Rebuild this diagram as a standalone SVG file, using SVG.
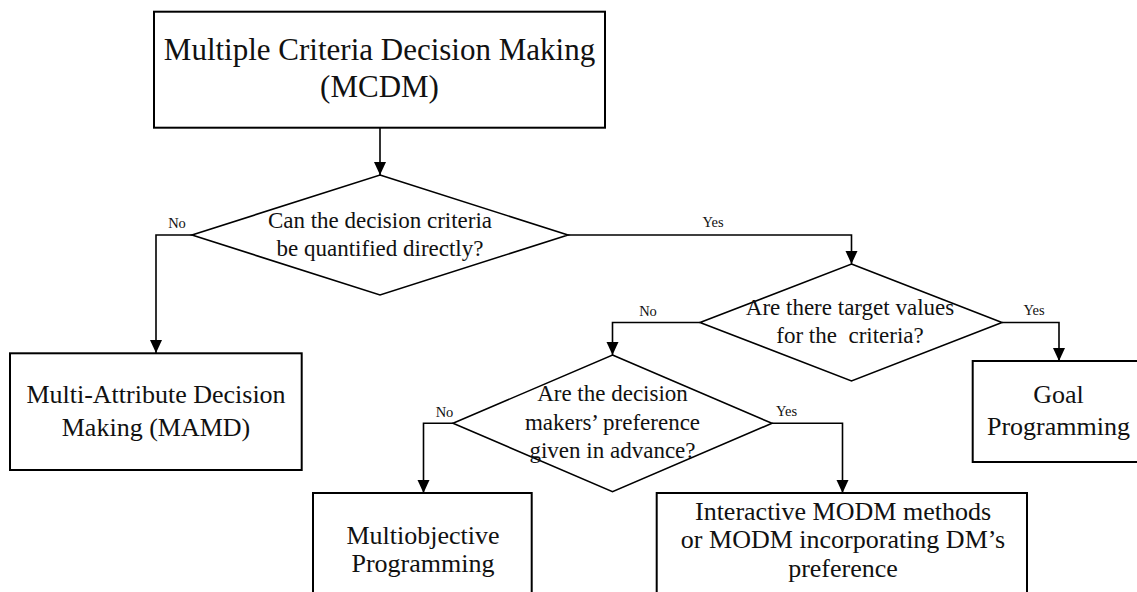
<svg xmlns="http://www.w3.org/2000/svg" width="1137" height="592" viewBox="0 0 1137 592">
<style>
.box{fill:#fff;stroke:#000;stroke-width:2}
.dia{fill:#fff;stroke:#000;stroke-width:1.6}
.con{fill:none;stroke:#000;stroke-width:1.6}
text{font-family:"Liberation Serif","Times New Roman",serif;fill:#111;text-anchor:middle}
.t31{font-size:31px}
.t26{font-size:26px}
.t23{font-size:23px}
.lbl{font-size:14.5px}
</style>
<defs>
<marker id="arr" markerUnits="userSpaceOnUse" markerWidth="14" markerHeight="14" viewBox="0 0 14 12" refX="13" refY="6" orient="auto">
<path d="M0,0 L13,6 L0,12 Z" fill="#000"/>
</marker>
</defs>
<rect width="1137" height="592" fill="#fff"/>
<g id="connectors">
<path class="con" d="M380,128 V175" marker-end="url(#arr)"/>
<path class="con" d="M192,235 H156 V353" marker-end="url(#arr)"/>
<path class="con" d="M568,235 H851.5 V264" marker-end="url(#arr)"/>
<path class="con" d="M700,322.5 H612.5 V355" marker-end="url(#arr)"/>
<path class="con" d="M1002,322.5 H1059 V361" marker-end="url(#arr)"/>
<path class="con" d="M453,423.3 H423.5 V493" marker-end="url(#arr)"/>
<path class="con" d="M772,423.3 H842.5 V493" marker-end="url(#arr)"/>
<text class="lbl" x="177" y="228">No</text>
<text class="lbl" x="713" y="227">Yes</text>
<text class="lbl" x="648" y="316">No</text>
<text class="lbl" x="1034" y="315">Yes</text>
<text class="lbl" x="444.5" y="417">No</text>
<text class="lbl" x="786.5" y="416">Yes</text>
</g>
<g id="mcdm">
<rect class="box" x="154" y="11.7" width="451" height="116"/>
<text class="t31" x="379.5" y="60">Multiple Criteria Decision Making</text>
<text class="t31" x="379.5" y="97">(MCDM)</text>
</g>
<g id="q1">
<polygon class="dia" points="380,175 568,235 380,295 192,235"/>
<text class="t23" x="380" y="228">Can the decision criteria</text>
<text class="t23" x="380" y="256">be quantified directly?</text>
</g>
<g id="mamd">
<rect class="box" x="10" y="353.3" width="291.7" height="116.7"/>
<text class="t26" x="156" y="403">Multi-Attribute Decision</text>
<text class="t26" x="156" y="436">Making (MAMD)</text>
</g>
<g id="q2">
<polygon class="dia" points="851.5,264 1002,322.5 851.5,381 700,322.5"/>
<text class="t23" x="850" y="315">Are there target values</text>
<text class="t23" x="850" y="343" xml:space="preserve">for the  criteria?</text>
</g>
<g id="goal">
<rect class="box" x="972.7" y="361" width="180" height="101"/>
<text class="t26" x="1058.5" y="403">Goal</text>
<text class="t26" x="1058.5" y="435">Programming</text>
</g>
<g id="q3">
<polygon class="dia" points="612.5,355 772,423.3 612.5,491.7 453,423.3"/>
<text class="t23" x="612.5" y="401">Are the decision</text>
<text class="t23" x="612.5" y="430">makers’ preference</text>
<text class="t23" x="612.5" y="458">given in advance?</text>
</g>
<g id="multiobjective">
<rect class="box" x="313" y="493" width="218.7" height="110"/>
<text class="t26" x="423" y="544">Multiobjective</text>
<text class="t26" x="423" y="572">Programming</text>
</g>
<g id="interactive">
<rect class="box" x="656.7" y="493" width="370.3" height="110"/>
<text class="t26" x="843" y="520">Interactive MODM methods</text>
<text class="t26" x="843" y="548">or MODM incorporating DM’s</text>
<text class="t26" x="843" y="577">preference</text>
</g>
</svg>
